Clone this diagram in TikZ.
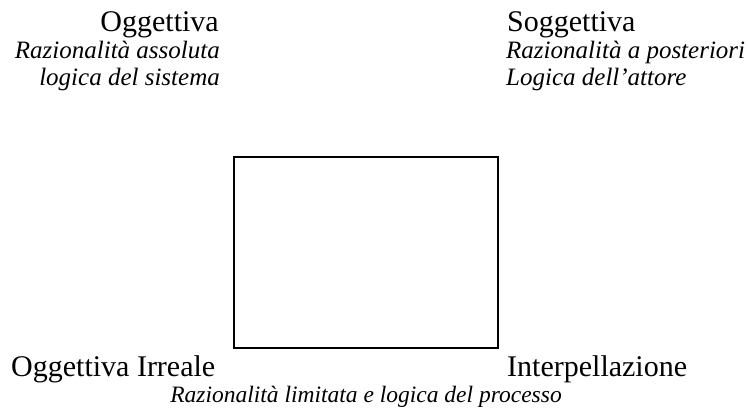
\documentclass[tikz,border=0pt]{standalone}
\usepackage{fontspec}
\setmainfont{Liberation Serif}
\begin{document}
\begin{tikzpicture}[x=1pt,y=-1pt,
  up/.style={inner sep=0pt,font=\fontsize{30}{32}\selectfont},
  it/.style={inner sep=0pt,font=\fontsize{25}{27}\selectfont\itshape},
  ittitle/.style={inner sep=0pt,font=\fontsize{23.5}{26}\selectfont\itshape},
  frame/.style={draw=black,line width=2pt}]
\useasboundingbox (0,0) rectangle (748,410);
\node[up,anchor=base east] (ogg) at (219,31) {Oggettiva};
\node[it,anchor=base east] (ras) at (220,58) {Razionalità assoluta};
\node[it,anchor=base east] (lsi) at (220,85) {logica del sistema};
\node[up,anchor=base west] (sog) at (507,31) {Soggettiva};
\node[it,anchor=base west] (rap) at (506,58) {Razionalità a posteriori};
\node[it,anchor=base west] (lat) at (506,85) {Logica dell’attore};
\draw[frame] (234,157) rectangle (498,348);
\node[up,anchor=base west] (oir) at (11,376) {Oggettiva Irreale};
\node[up,anchor=base west] (int) at (507,376) {Interpellazione};
\node[ittitle,anchor=base] (rlp) at (366,402) {Razionalità limitata e logica del processo};
\end{tikzpicture}
\end{document}
